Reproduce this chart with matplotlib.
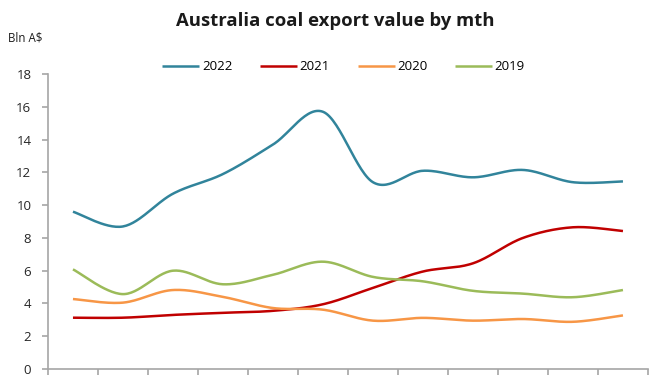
import numpy as np
import matplotlib.pyplot as plt

# monthly coal export value, Bln A$
months = list(range(1, 13))
y2022 = [9.6, 8.7, 10.7, 11.9, 13.7, 15.7, 11.4, 12.1, 11.7, 12.15, 11.4, 11.45]
y2021 = [3.13, 3.13, 3.3, 3.43, 3.55, 3.95, 4.95, 5.95, 6.45, 8.0, 8.65, 8.42]
y2020 = [4.27, 4.05, 4.82, 4.4, 3.72, 3.62, 2.95, 3.12, 2.95, 3.05, 2.88, 3.27]
y2019 = [6.08, 4.57, 6.0, 5.17, 5.75, 6.55, 5.62, 5.35, 4.77, 4.6, 4.38, 4.82]

series = [("2022", y2022, "#31849B"),
          ("2021", y2021, "#C00000"),
          ("2020", y2020, "#F79646"),
          ("2019", y2019, "#9BBB59")]


def smooth(x, y, n=30):
    # Excel-style smoothed line (Catmull-Rom bezier)
    x = np.asarray(x, float)
    y = np.asarray(y, float)
    xs, ys = [], []
    for i in range(len(x) - 1):
        p0 = (x[max(i - 1, 0)], y[max(i - 1, 0)])
        p1 = (x[i], y[i])
        p2 = (x[i + 1], y[i + 1])
        p3 = (x[min(i + 2, len(x) - 1)], y[min(i + 2, len(x) - 1)])
        c1 = (p1[0] + (p2[0] - p0[0]) / 6, p1[1] + (p2[1] - p0[1]) / 6)
        c2 = (p2[0] - (p3[0] - p1[0]) / 6, p2[1] - (p3[1] - p1[1]) / 6)
        t = np.linspace(0, 1, n, endpoint=False)
        b = [(1 - t) ** 3, 3 * (1 - t) ** 2 * t, 3 * (1 - t) * t ** 2, t ** 3]
        xs.append(b[0] * p1[0] + b[1] * c1[0] + b[2] * c2[0] + b[3] * p2[0])
        ys.append(b[0] * p1[1] + b[1] * c1[1] + b[2] * c2[1] + b[3] * p2[1])
    xs.append([x[-1]])
    ys.append([y[-1]])
    return np.concatenate(xs), np.concatenate(ys)


plt.rcParams['font.family'] = ['Open Sans', 'DejaVu Sans']

fig = plt.figure(figsize=(6.7, 3.8), dpi=100)
ax = fig.add_axes([0.0716, 0.029, 0.8955, 0.776])

for name, vals, col in series:
    sx, sy = smooth(months, vals)
    ax.plot(sx, sy, color=col, lw=1.8, label=name, solid_capstyle='butt')

ax.set_xlim(0.5, 12.5)
ax.set_ylim(0, 18)
ax.set_yticks(range(0, 19, 2))
ax.set_xticks(np.arange(0.5, 12.6, 1))
ax.set_xticklabels([])

for s in ['top', 'right']:
    ax.spines[s].set_visible(False)
for s in ['left', 'bottom']:
    ax.spines[s].set_color('#A6A6A6')
    ax.spines[s].set_linewidth(1.2)
ax.tick_params(axis='both', color='#A6A6A6', length=4, width=1.2,
               labelsize=9.5, labelcolor='#262626', pad=8)

fig.text(0.5, 0.945, "Australia coal export value by mth", ha='center',
         va='center', fontsize=13.3, fontweight='bold', color='#1a1a1a')
fig.text(0.012, 0.9, "Bln A$", ha='left', va='center', fontsize=8.3,
         color='#1a1a1a')

ax.legend(loc='center', bbox_to_anchor=(0.493, 1.025), ncol=4,
          frameon=False, fontsize=9.5, handlelength=2.8, handletextpad=0.2,
          columnspacing=2.1)

fig.savefig("out.png", dpi=100)
